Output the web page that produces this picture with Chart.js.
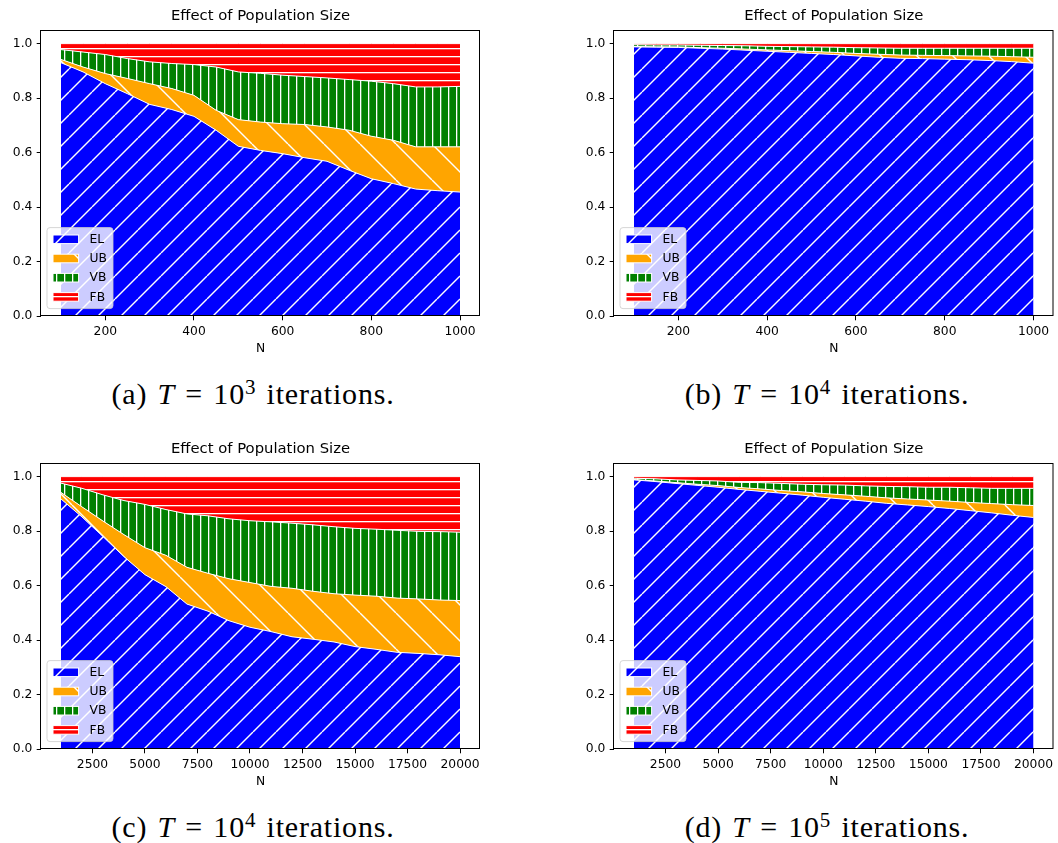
<!DOCTYPE html>
<html><head><meta charset="utf-8">
<script src="https://cdn.jsdelivr.net/npm/chart.js@4.4.1/dist/chart.umd.min.js"></script>
<style>
html,body{margin:0;padding:0;background:#fff;overflow:hidden;width:1058px;height:843px;}
.panel{position:absolute;}
.cap{position:absolute;font-family:'Liberation Serif',serif;font-size:30px;line-height:30px;white-space:nowrap;transform:translateX(-50%);color:#000;letter-spacing:0.8px;word-spacing:2px}
.cap sup{font-size:0.7em;vertical-align:0;position:relative;top:-0.5em;line-height:0}
</style></head><body>
<div class="panel" style="left:0;top:0"><canvas id="ca" width="529" height="365"></canvas></div>
<div class="panel" style="left:573px;top:0"><canvas id="cb" width="485" height="365"></canvas></div>
<div class="panel" style="left:0;top:432.5px"><canvas id="cc" width="529" height="365"></canvas></div>
<div class="panel" style="left:573px;top:432.5px"><canvas id="cd" width="485" height="365"></canvas></div>
<div class="cap" style="left:253px;top:379px">(a) <i>T</i> = 10<sup>3</sup> iterations.</div>
<div class="cap" style="left:827px;top:379px">(b) <i>T</i> = 10<sup>4</sup> iterations.</div>
<div class="cap" style="left:253px;top:812px">(c) <i>T</i> = 10<sup>4</sup> iterations.</div>
<div class="cap" style="left:827px;top:812px">(d) <i>T</i> = 10<sup>5</sup> iterations.</div>
<script>
// ---- data ----
const N_AB = [100,150,200,250,300,350,400,450,500,550,600,650,700,750,800,850,900,950,1000];
const EL_A = [0.930,0.896,0.853,0.816,0.777,0.758,0.733,0.682,0.623,0.608,0.596,0.581,0.568,0.535,0.504,0.486,0.466,0.460,0.455];
const UB_A = [0.012,0.018,0.037,0.056,0.076,0.077,0.077,0.073,0.098,0.104,0.110,0.122,0.126,0.147,0.156,0.159,0.155,0.161,0.166];
const VB_A = [0.036,0.055,0.070,0.073,0.080,0.092,0.113,0.159,0.175,0.179,0.178,0.176,0.180,0.186,0.202,0.208,0.220,0.220,0.222];
const FB_A = [0.022,0.031,0.040,0.055,0.067,0.073,0.077,0.086,0.104,0.109,0.116,0.121,0.126,0.132,0.138,0.147,0.159,0.159,0.157];

const EL_B = [0.988,0.987,0.986,0.983,0.980,0.976,0.972,0.968,0.964,0.960,0.955,0.950,0.946,0.945,0.943,0.941,0.938,0.934,0.928];
const UB_B = [0.001,0.001,0.002,0.002,0.003,0.004,0.005,0.006,0.007,0.008,0.009,0.011,0.012,0.012,0.013,0.014,0.016,0.018,0.022];
const VB_B = [0.007,0.007,0.007,0.009,0.010,0.012,0.013,0.015,0.017,0.019,0.021,0.023,0.025,0.026,0.027,0.028,0.029,0.031,0.033];
const FB_B = [0.004,0.005,0.005,0.006,0.007,0.008,0.010,0.011,0.012,0.013,0.015,0.016,0.017,0.017,0.017,0.017,0.017,0.017,0.017];

const N_CD = [1000,2000,3000,4000,5000,6000,7000,8000,9000,10000,11000,12000,13000,14000,15000,16000,17000,18000,19000,20000];
const EL_C = [0.918,0.852,0.780,0.706,0.640,0.596,0.532,0.506,0.471,0.447,0.431,0.412,0.403,0.393,0.376,0.366,0.355,0.351,0.346,0.339];
const UB_C = [0.024,0.037,0.057,0.081,0.099,0.115,0.135,0.139,0.154,0.164,0.166,0.178,0.176,0.177,0.189,0.195,0.199,0.200,0.201,0.206];
const VB_C = [0.034,0.068,0.096,0.125,0.159,0.168,0.196,0.211,0.220,0.227,0.237,0.239,0.244,0.246,0.245,0.246,0.249,0.248,0.251,0.251];
const FB_C = [0.024,0.043,0.067,0.088,0.102,0.121,0.137,0.144,0.155,0.162,0.166,0.171,0.177,0.184,0.190,0.193,0.197,0.201,0.202,0.204];

const EL_D = [0.988,0.982,0.975,0.968,0.961,0.953,0.946,0.939,0.932,0.924,0.917,0.910,0.902,0.896,0.890,0.883,0.875,0.867,0.858,0.850];
const UB_D = [0.001,0.002,0.003,0.004,0.006,0.007,0.009,0.010,0.012,0.014,0.016,0.018,0.020,0.022,0.024,0.027,0.030,0.034,0.039,0.044];
const VB_D = [0.005,0.008,0.010,0.014,0.017,0.019,0.023,0.026,0.028,0.032,0.036,0.038,0.042,0.045,0.047,0.051,0.054,0.056,0.060,0.063];
const FB_D = [0.006,0.008,0.012,0.014,0.016,0.021,0.022,0.025,0.028,0.030,0.031,0.034,0.036,0.037,0.039,0.039,0.041,0.043,0.043,0.043];

const SERIES = ['EL','UB','VB','FB'];
const COLORS = ['#0000ff','#ffa500','#008000','#ff0000'];
const HATCHES = ['/','\\','|','-'];
const XTICKS_AB = [200,400,600,800,1000];
const XTICKS_CD = [2500,5000,7500,10000,12500,15000,17500,20000];
const YTICKS = [0,0.2,0.4,0.6,0.8,1.0];
const YTICK_LABELS = ['0.0','0.2','0.4','0.6','0.8','1.0'];
const TITLE = 'Effect of Population Size';
const XLABEL = 'N';

// ---- hatch patterns ----
function makePattern(ctx, hatch, color){
  const P = hatch==='/' ? 23 : hatch==='\\' ? 36 : 8;
  const t = document.createElement('canvas');
  t.width = P; t.height = P;
  const g = t.getContext('2d');
  g.fillStyle = color; g.fillRect(0,0,P,P);
  g.strokeStyle = '#ffffff'; g.fillStyle = '#ffffff'; g.lineWidth = 1.45;
  if (hatch==='/'){
    for (let k=-1;k<=1;k++){ g.beginPath(); g.moveTo(k*P,P); g.lineTo(k*P+P,0); g.stroke(); }
  } else if (hatch==='\\'){
    for (let k=-1;k<=1;k++){ g.beginPath(); g.moveTo(k*P,0); g.lineTo(k*P+P,P); g.stroke(); }
  } else if (hatch==='|'){
    g.fillRect(0,0,1.3,P);
  } else {
    g.fillRect(0,0,P,1.3);
  }
  return ctx.createPattern(t,'repeat');
}

Chart.defaults.font.family = '"DejaVu Sans", sans-serif';
Chart.defaults.color = '#000';

const boxLegend = {
  id:'boxLegend',
  afterDatasetsDraw(chart){
    const {ctx, chartArea:a} = chart;
    const bw=66, bh=81, bx=a.left+6, by=a.bottom-7.4-bh;
    ctx.save();
    ctx.beginPath();
    ctx.roundRect(bx,by,bw,bh,3);
    ctx.fillStyle='rgba(255,255,255,0.8)'; ctx.fill();
    ctx.strokeStyle='rgba(204,204,204,0.8)'; ctx.lineWidth=1; ctx.stroke();
    ctx.font='12.3px "DejaVu Sans"'; ctx.textBaseline='middle'; ctx.textAlign='left';
    chart.data.datasets.forEach((ds,i)=>{
      const cy = by + 11.7 + i*19.2;
      ctx.fillStyle = ds.backgroundColor;
      ctx.fillRect(bx+6, cy-4.3, 25.6, 8.6);
      ctx.strokeStyle='#fff'; ctx.lineWidth=1;
      ctx.strokeRect(bx+6, cy-4.3, 25.6, 8.6);
      ctx.fillStyle='#000';
      ctx.fillText(ds.label, bx+42.6, cy+0.5);
    });
    ctx.restore();
  }
};
const spines = {
  id:'spines',
  afterDraw(chart){
    const {ctx, chartArea:a} = chart;
    ctx.save();
    ctx.strokeStyle='#000'; ctx.lineWidth=1;
    ctx.strokeRect(a.left-0.5, a.top+0.5, a.right-a.left, a.bottom-a.top-1);
    ctx.restore();
  }
};

function makeChart(id, N, vals, xmin, xmax, xticks, padRight){
  const el = document.getElementById(id);
  const ctx = el.getContext('2d');
  const datasets = SERIES.map((name,s)=>({
    label:name,
    data:N.map((n,i)=>({x:n,y:vals[s][i]})),
    backgroundColor: makePattern(ctx, HATCHES[s], COLORS[s]),
    borderColor:'#ffffff',
    borderWidth:1,
    pointRadius:0,
    tension:0,
    fill: s===0 ? 'origin' : '-1'
  }));
  return new Chart(ctx,{
    type:'line',
    data:{datasets},
    plugins:[boxLegend, spines],
    options:{
      responsive:false, animation:false, events:[],
      layout:{padding:{left:0,right:padRight,top:0,bottom:0}},
      plugins:{
        legend:{display:false}, tooltip:{enabled:false},
        title:{display:true, text:TITLE, fullSize:false, color:'#000',
          font:{size:14.8, weight:'normal', lineHeight:1.2}, padding:{top:7.5,bottom:4.74}}
      },
      scales:{
        x:{type:'linear', min:xmin, max:xmax,
          afterFit(s){ s.height = 49; },
          afterBuildTicks(s){ s.ticks = xticks.map(v=>({value:v})); },
          ticks:{autoSkip:false, maxRotation:0, padding:4.5, font:{size:12.3}, color:'#000',
            callback:(v)=>String(v)},
          grid:{display:true, drawOnChartArea:false, drawTicks:true, tickLength:4.3, tickColor:'#000', tickWidth:1},
          border:{display:false},
          title:{display:true, text:XLABEL, color:'#000', font:{size:12.3}, padding:{top:0,bottom:9}}
        },
        y:{type:'linear', min:0, max:1.05, stacked:true,
          afterFit(s){ s.width = 41; },
          afterBuildTicks(s){ s.ticks = YTICKS.map(v=>({value:v})); },
          ticks:{autoSkip:false, padding:4.3, font:{size:12.3}, color:'#000',
            callback:(v)=>{ const k=YTICKS.findIndex(t=>Math.abs(t-v)<1e-9); return k>=0?YTICK_LABELS[k]:''; }},
          grid:{display:true, drawOnChartArea:false, drawTicks:true, tickLength:4.3, tickColor:'#000', tickWidth:1},
          border:{display:false}
        }
      }
    }
  });
}

makeChart('ca', N_AB, [EL_A,UB_A,VB_A,FB_A], 55, 1045, XTICKS_AB, 49);
makeChart('cb', N_AB, [EL_B,UB_B,VB_B,FB_B], 55, 1045, XTICKS_AB, 4.5);
makeChart('cc', N_CD, [EL_C,UB_C,VB_C,FB_C], 50, 20950, XTICKS_CD, 49);
makeChart('cd', N_CD, [EL_D,UB_D,VB_D,FB_D], 50, 20950, XTICKS_CD, 4.5);
</script>
</body></html>
